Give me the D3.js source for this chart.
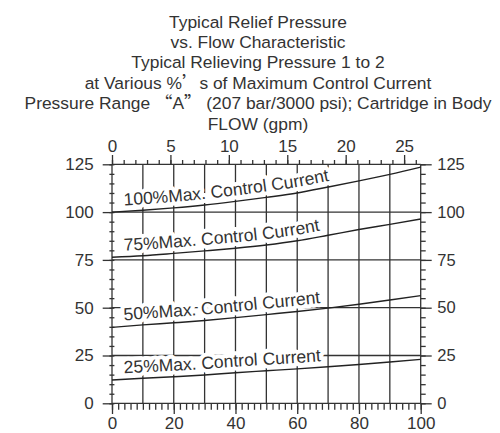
<!DOCTYPE html>
<html><head><meta charset="utf-8">
<script src="https://cdn.jsdelivr.net/npm/d3@7/dist/d3.min.js"></script>
<style>
html,body{margin:0;padding:0;background:#fff;}
svg{display:block;}
text{font-family:"Liberation Sans",Arial,sans-serif;fill:#333;}
.cjk{font-family:"Noto Sans CJK SC",sans-serif;}
</style></head>
<body><svg id="c" width="500" height="433"></svg>
<script>
// ---- data ----
const titleLines = [
  ["Typical Relief Pressure"],
  ["vs. Flow Characteristic"],
  ["Typical Relieving Pressure 1 to 2"],
  ["at Various %", {cjk:"’"}, "s of Maximum Control Current"],
  ["Pressure Range ", {cjk:"“"}, "A", {cjk:"”"}, " (207 bar/3000 psi); Cartridge in Body"],
  ["FLOW (gpm)"]
];
const flowLpm = [0, 10, 20, 30, 40, 50, 60, 70, 80, 90, 100];
const cur100 = [100, 101.0, 102.2, 103.7, 105.6, 107.7, 110.0, 113.1, 116.3, 119.7, 123.5];
const cur75  = [76.4, 77.2, 78.4, 79.7, 81.1, 82.8, 85.0, 87.9, 90.9, 93.6, 96.4];
const cur50  = [39.7, 41.0, 42.1, 43.3, 44.8, 46.4, 48.0, 49.8, 51.8, 54.0, 56.3];
const cur25  = [12.2, 13.1, 13.9, 14.8, 16.0, 17.0, 18.0, 19.1, 20.3, 21.6, 23.0];
const seriesValues = [cur100, cur75, cur50, cur25];
const seriesLabels = ["100%Max. Control Current", "75%Max. Control Current",
                      "50%Max. Control Current", "25%Max. Control Current"];
const pressureTicks = [0, 25, 50, 75, 100, 125];
const flowTicks = [0, 20, 40, 60, 80, 100];
const gpmTicks = [0, 5, 10, 15, 20, 25];
const gpmPerLpm = 1 / 3.785;

// ---- layout ----
const L = 112, R = 420.7, T = 164.3, B = 403.3;
const stroke = "#333";
const svg = d3.select("#c");

const x = d3.scaleLinear().domain([0, 100]).range([L, R]);
const xg = d3.scaleLinear().domain([0, 100 * gpmPerLpm]).range([L, R]);
const y = d3.scaleLinear().domain([0, 125]).range([B, T]);

// title
const tg = svg.append("g").attr("font-size", 17.4);
titleLines.forEach((parts, i) => {
  const t = tg.append("text").attr("x", 258).attr("y", 27.5 + i * 20.4)
    .attr("text-anchor", "middle");
  parts.forEach(p => {
    if (typeof p === "string") t.append("tspan").text(p);
    else t.append("tspan").attr("class", "cjk").text(p.cjk);
  });
});

// grid
const grid = svg.append("g").attr("stroke", stroke).attr("stroke-width", 1.3);
grid.selectAll("line.v").data(d3.range(10, 100, 10)).join("line")
  .attr("x1", d => x(d)).attr("x2", d => x(d)).attr("y1", T).attr("y2", B);
grid.selectAll("line.h").data([25, 50, 75, 100]).join("line")
  .attr("x1", L).attr("x2", R).attr("y1", d => y(d)).attr("y2", d => y(d));

function styleAxis(g, fs) {
  g.select(".domain").remove();
  g.selectAll("line").attr("stroke", stroke).attr("stroke-width", 1.3);
  g.selectAll("text").attr("fill", "#333").attr("font-size", fs)
    .attr("font-family", '"Liberation Sans",Arial,sans-serif');
}

// bottom axis: minor every 2, major every 20
svg.append("g").attr("transform", `translate(0,${B})`)
  .call(d3.axisBottom(x).tickValues(d3.range(0, 101, 2)).tickSize(6.5).tickFormat(""))
  .call(g => styleAxis(g, 17));
svg.append("g").attr("transform", `translate(0,${B})`)
  .call(d3.axisBottom(x).tickValues(flowTicks).tickSize(10.7).tickPadding(3).tickFormat(d3.format("d")))
  .call(g => styleAxis(g, 17));

// top axis in gpm: minor every 1, major every 5
svg.append("g").attr("transform", `translate(0,${T})`)
  .call(d3.axisTop(xg).tickValues(d3.range(0, 27, 1)).tickSize(4.3).tickFormat(""))
  .call(g => styleAxis(g, 17));
svg.append("g").attr("transform", `translate(0,${T})`)
  .call(d3.axisTop(xg).tickValues(gpmTicks).tickSize(9.3).tickPadding(3).tickFormat(d3.format("d")))
  .call(g => styleAxis(g, 17));

// left axis: minor every 5 (crossing), major every 25 outward
svg.append("g").attr("transform", `translate(${L + 2.4},0)`)
  .call(d3.axisLeft(y).tickValues(d3.range(0, 126, 5)).tickSize(5).tickFormat(""))
  .call(g => styleAxis(g, 17));
svg.append("g").attr("transform", `translate(${L},0)`)
  .call(d3.axisLeft(y).tickValues(pressureTicks).tickSize(9.3).tickPadding(9).tickFormat(d3.format("d")))
  .call(g => styleAxis(g, 17));

// right axis: minor every 5 outward, major every 25 outward
svg.append("g").attr("transform", `translate(${R},0)`)
  .call(d3.axisRight(y).tickValues(d3.range(0, 126, 5)).tickSize(5).tickFormat(""))
  .call(g => styleAxis(g, 17));
svg.append("g").attr("transform", `translate(${R},0)`)
  .call(d3.axisRight(y).tickValues(pressureTicks).tickSize(11).tickPadding(5.5).tickFormat(d3.format("d")))
  .call(g => styleAxis(g, 16.5));

// frame lines
const frame = svg.append("g").attr("stroke", stroke).attr("stroke-width", 1.3);
frame.append("line").attr("x1", L).attr("x2", R).attr("y1", T).attr("y2", T);
frame.append("line").attr("x1", L).attr("x2", R).attr("y1", B).attr("y2", B);
frame.append("line").attr("x1", L).attr("x2", L).attr("y1", T).attr("y2", B);
frame.append("line").attr("x1", R).attr("x2", R).attr("y1", T).attr("y2", B);

// curves
const line = d3.line().x(d => x(d[0])).y(d => y(d[1])).curve(d3.curveMonotoneX);
const lineUp = d3.line().x(d => x(d[0])).y(d => y(d[1]) - 6).curve(d3.curveMonotoneX);
const defs = svg.append("defs");
seriesValues.forEach((vals, i) => {
  const pts = flowLpm.map((f, k) => [f, vals[k]]);
  defs.append("path").attr("id", "lp" + i).attr("d", lineUp(pts));
});
// label halos first (knock out grid), then curves, then label text
seriesLabels.forEach((lab, i) => {
  svg.append("text").attr("font-size", 17.5)
    .attr("fill", "#fff").attr("stroke", "#fff").attr("stroke-width", 8)
    .attr("stroke-linejoin", "round")
    .append("textPath").attr("href", "#lp" + i).attr("startOffset", 12).text(lab);
});
seriesValues.forEach((vals, i) => {
  const pts = flowLpm.map((f, k) => [f, vals[k]]);
  svg.append("path").attr("d", line(pts)).attr("fill", "none")
    .attr("stroke", "#222").attr("stroke-width", 1.4);
});
seriesLabels.forEach((lab, i) => {
  svg.append("text").attr("font-size", 17.5).attr("fill", "#333")
    .append("textPath").attr("href", "#lp" + i).attr("startOffset", 12).text(lab);
});
</script></body></html>
